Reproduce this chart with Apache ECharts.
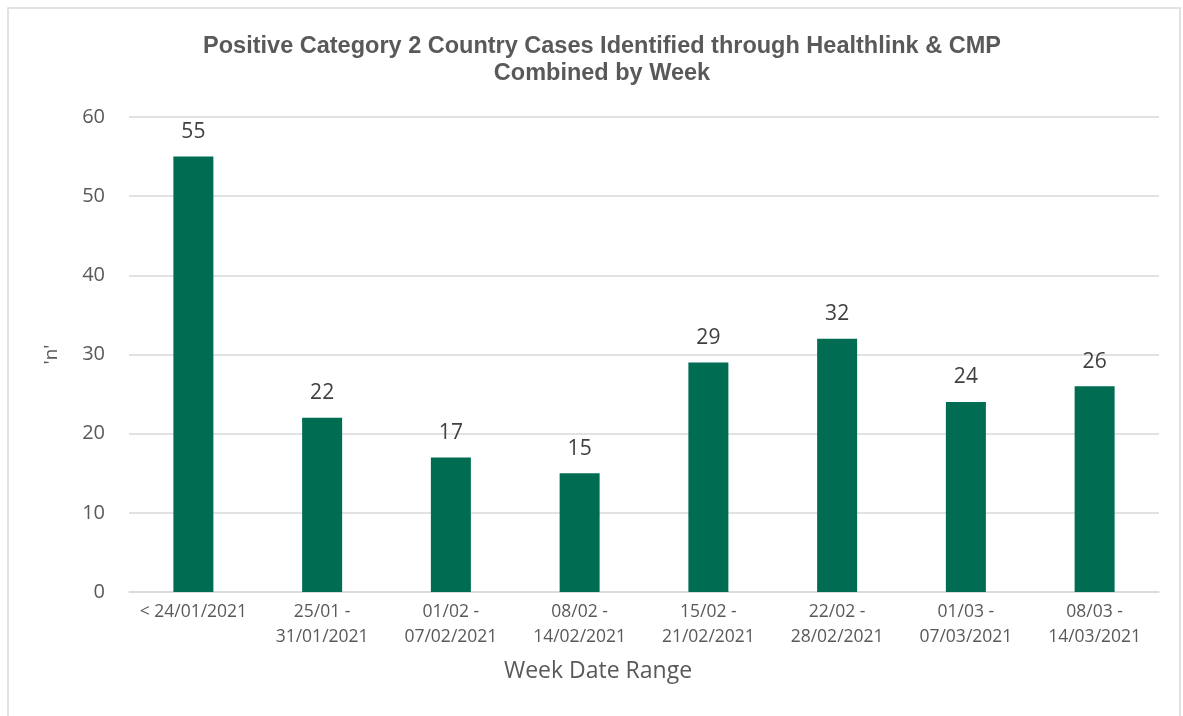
<!DOCTYPE html>
<html><head><meta charset="utf-8">
<script src="https://cdn.jsdelivr.net/npm/echarts@6/dist/echarts.min.js"></script>
<style>html,body{margin:0;padding:0;background:#fff}#c{width:1183px;height:716px}</style>
</head><body><div id="c"></div>
<script>
const categories = ['< 24/01/2021','25/01 -\n31/01/2021','01/02 -\n07/02/2021','08/02 -\n14/02/2021','15/02 -\n21/02/2021','22/02 -\n28/02/2021','01/03 -\n07/03/2021','08/03 -\n14/03/2021'];
const values = [55,22,17,15,29,32,24,26];
const titleText = 'Positive Category 2 Country Cases Identified through Healthlink & CMP\nCombined by Week';
const xAxisName = 'Week Date Range';
const yAxisName = "'n'";
const chart = echarts.init(document.getElementById('c'));
chart.setOption({
  animation:false,
  backgroundColor:'#fff',
  graphic:[
    {type:'rect',shape:{x:8,y:8,width:1172,height:712},style:{fill:'none',stroke:'#d9d9d9',lineWidth:1.5},silent:true},
    {type:'text',x:598,y:671,style:{text:xAxisName,fill:'#595959',font:'23px "Open Sans", "Noto Sans"',textAlign:'center',textVerticalAlign:'middle'}}
  ],
  title:{text:titleText,left:597,top:28,textAlign:'center',textStyle:{fontFamily:'Liberation Sans, Arial',fontSize:23.5,fontWeight:'bold',color:'#595959',lineHeight:27}},
  grid:{left:129,right:24,top:117,bottom:124,containLabel:false},
  xAxis:{type:'category',data:categories,
    axisLine:{lineStyle:{color:'#d9d9d9',width:1.5}},axisTick:{show:false},
    axisLabel:{color:'#595959',fontFamily:'Open Sans, Noto Sans',fontSize:17.5,lineHeight:25,margin:8,interval:0}},
  yAxis:{type:'value',min:0,max:60,interval:10,
    axisLine:{show:false},axisTick:{show:false},
    splitLine:{lineStyle:{color:'#d9d9d9',width:1.5}},
    axisLabel:{color:'#595959',fontFamily:'Open Sans, Noto Sans',fontSize:20,margin:24},
    name:yAxisName,nameLocation:'middle',nameGap:68,nameRotate:90,
    nameTextStyle:{color:'#595959',fontFamily:'Open Sans, Noto Sans',fontSize:19}},
  series:[{type:'bar',data:values,barWidth:40,
    itemStyle:{color:'#006d53'},
    label:{show:true,position:'top',distance:14,color:'#404040',fontFamily:'Open Sans, Noto Sans',fontSize:21}}]
});
</script></body></html>
